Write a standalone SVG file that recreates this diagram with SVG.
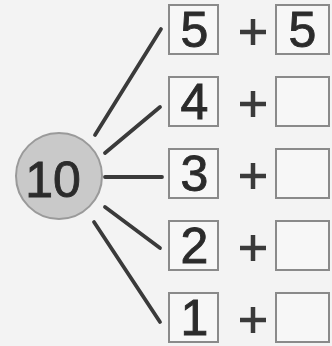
<svg xmlns="http://www.w3.org/2000/svg" width="332" height="346" viewBox="0 0 332 346">
<style>
.bg{fill:#f3f3f3}
.box{fill:#f7f7f7;stroke:#8a8a8a;stroke-width:2}
.num{font-family:"Liberation Sans",Arial,sans-serif;font-size:50px;fill:#2b2b2b;stroke:#2b2b2b;stroke-width:0.9;text-anchor:middle}
.conn line{stroke:#3a3a3a;stroke-width:3.8;stroke-linecap:round}
.plus{stroke:#3a3a3a;stroke-width:4.5}
</style>
<rect class="bg" x="0" y="0" width="332" height="346"/>
<g id="connectors" class="conn">
<line x1="95" y1="135" x2="161" y2="29"/>
<line x1="105" y1="153" x2="160" y2="107"/>
<line x1="105" y1="177" x2="162" y2="177"/>
<line x1="105" y1="207" x2="160" y2="248"/>
<line x1="94" y1="222" x2="160" y2="322"/>
</g>
<g id="node-10">
<circle cx="59" cy="176" r="43" fill="#c9c9c9" stroke="#9a9a9a" stroke-width="2"/>
<text class="num" x="53" y="197">10</text>
</g>
<g id="row-5">
<rect class="box" x="169" y="5" width="49" height="49"/>
<text class="num" x="194.5" y="47">5</text>
<path class="plus" d="M240 32H266M253 19V45"/>
<rect class="box" x="276" y="5" width="53" height="49"/>
<text class="num" x="302.5" y="47">5</text>
</g>
<g id="row-4">
<rect class="box" x="169" y="77" width="49" height="49"/>
<text class="num" x="194.5" y="119">4</text>
<path class="plus" d="M240 104H266M253 91V117"/>
<rect class="box" x="276" y="77" width="53" height="49"/>
</g>
<g id="row-3">
<rect class="box" x="169" y="149" width="49" height="49"/>
<text class="num" x="194.5" y="191">3</text>
<path class="plus" d="M240 176H266M253 163V189"/>
<rect class="box" x="276" y="149" width="53" height="49"/>
</g>
<g id="row-2">
<rect class="box" x="169" y="221" width="49" height="49"/>
<text class="num" x="194.5" y="263">2</text>
<path class="plus" d="M240 248H266M253 235V261"/>
<rect class="box" x="276" y="221" width="53" height="49"/>
</g>
<g id="row-1">
<rect class="box" x="169" y="293" width="49" height="49"/>
<text class="num" x="194.5" y="335">1</text>
<path class="plus" d="M240 320H266M253 307V333"/>
<rect class="box" x="276" y="293" width="53" height="49"/>
</g>
</svg>
